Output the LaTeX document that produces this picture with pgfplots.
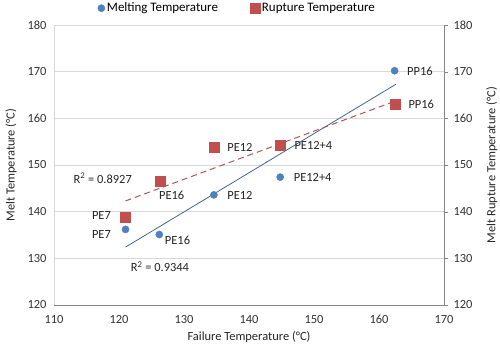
\documentclass[border=0pt]{standalone}
\usepackage{fontspec}
\setmainfont{Carlito}
\usepackage{pgfplots}
\pgfplotsset{compat=1.18}
\definecolor{mblue}{HTML}{4F81BD}
\definecolor{mred}{HTML}{C0504D}
\definecolor{tred}{HTML}{B05558}
\definecolor{gridg}{HTML}{D9D9D9}
\definecolor{axg}{HTML}{868686}
\begin{document}
\begin{tikzpicture}[x=1bp,y=1bp]
\pgfplotsset{every axis/.style={scale only axis, width=390bp, height=280bp,
  xmin=110, xmax=170, ymin=120, ymax=180,
  /pgf/number format/assume math mode=true,
  tick label style={font=\fontsize{12.5}{14}\selectfont, text=black!80},
  label style={font=\fontsize{12.5}{14}\selectfont, text=black!85}}}
\begin{axis}[at={(0,0)}, anchor=south west,
  axis x line*=bottom, axis y line*=left,
  x axis line style={draw=axg, -}, y axis line style={draw=gridg, -},
  xtick={110,120,...,170}, ytick={120,130,...,180},
  major tick length=0pt,
  xticklabel style={yshift=-7bp},
  yticklabel style={xshift=-4bp},
  ymajorgrids, grid style={gridg, line width=0.6pt},
  xlabel={Failure Temperature (°C)}, ylabel={Melt Temperature (°C)},
  xlabel style={yshift=-1bp}, ylabel style={yshift=4bp},
  legend style={at={(0.47,1.06)}, anchor=center, draw=none, fill=none,
    legend columns=2, font=\fontsize{13}{14}\selectfont,
    /tikz/every even column/.append style={column sep=30bp}},
  legend cell align=left, clip=false]
\addplot[only marks, mark=*, mark size=3.6bp, mblue, mark options={draw=mblue, fill=mblue}]
  coordinates {(121,136.2) (126.2,135.1) (134.6,143.6) (144.8,147.4) (162.4,170.2)};
\addlegendentry{Melting Temperature}
\addplot[only marks, mark=square*, mark size=5bp, mred, mark options={draw=mred, fill=mred}]
  coordinates {(121,138.8) (126.3,146.6) (134.6,153.9) (144.8,154.2) (162.5,163.0)};
\addlegendentry{Rupture Temperature}
\addplot[mblue!80!black, line width=0.8pt, forget plot] coordinates {(121,132.4) (162.6,167.3)};
\addplot[tred, line width=1pt, dashed, dash pattern=on 6bp off 4bp, forget plot] coordinates {(121,142.3) (162.5,163.7)};
\begin{scope}[every node/.style={font=\fontsize{12.5}{14}\selectfont, text=black!85}]
\node at (axis cs:117.3,135.1) {PE7};
\node at (axis cs:129,133.9) {PE16};
\node at (axis cs:138.6,143.4) {PE12};
\node at (axis cs:149.8,147.4) {PE12+4};
\node at (axis cs:166.3,170.1) {PP16};
\node at (axis cs:117.3,139.1) {PE7};
\node at (axis cs:128.1,143.6) {PE16};
\node at (axis cs:138.6,153.8) {PE12};
\node at (axis cs:149.9,154.1) {PE12+4};
\node at (axis cs:166.5,163.0) {PP16};
\node at (axis cs:117.5,147.2) {R\textsuperscript{2} = 0.8927};
\node at (axis cs:126.3,128.2) {R\textsuperscript{2} = 0.9344};
\end{scope}
\end{axis}
\begin{axis}[at={(0,0)}, anchor=south west,
  axis x line=none, axis y line*=right,
  y axis line style={draw=axg, -},
  ytick={120,130,...,180}, tick align=outside, major tick length=4bp,
  tick style={axg}, yticklabel style={xshift=2bp},
  ylabel={Melt Rupture Temperature (°C)}, ylabel style={yshift=-7bp}]
\addplot[draw=none] coordinates {(110,120)};
\end{axis}
\pgfresetboundingbox
\useasboundingbox (-54bp,-46bp) rectangle (446bp,305bp);
\end{tikzpicture}
\end{document}
